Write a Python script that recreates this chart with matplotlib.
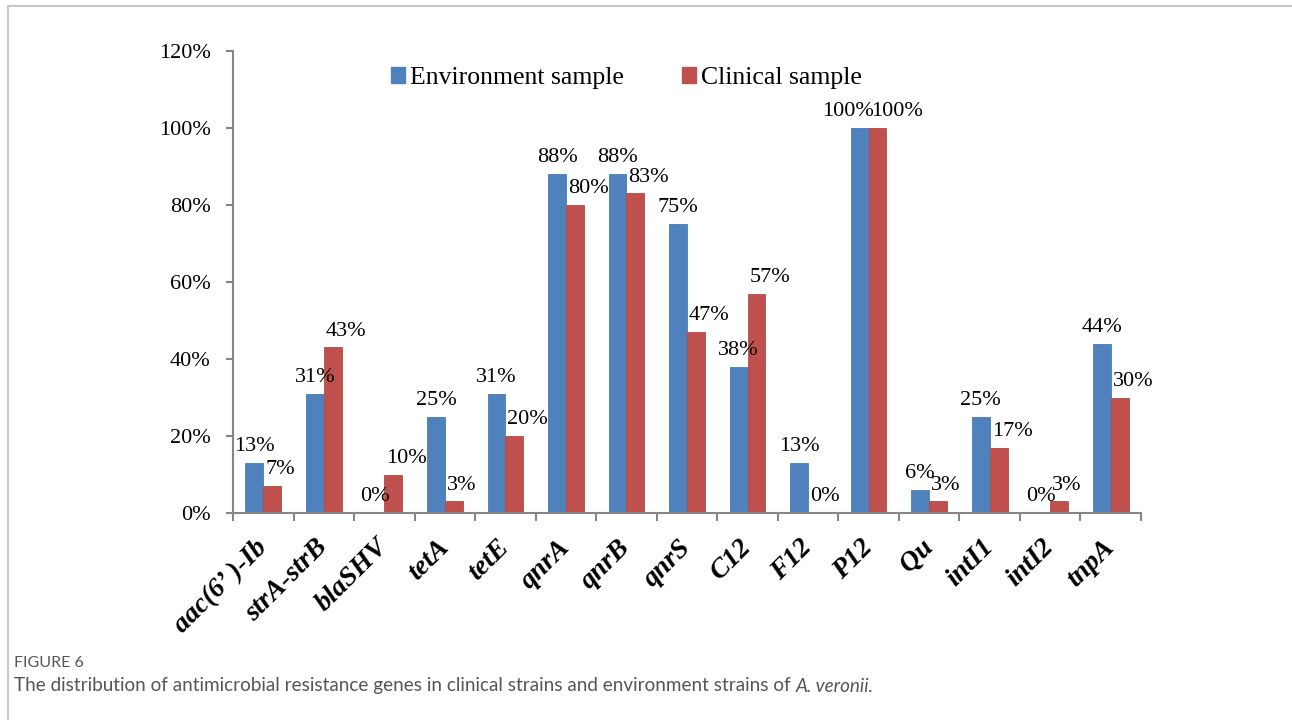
import numpy as np
import matplotlib
matplotlib.use('Agg')
import matplotlib.pyplot as plt
from matplotlib.lines import Line2D
from matplotlib.patches import Patch

# gene names and detection rates (%)
genes = ['aac(6’ )-Ib', 'strA-strB', 'blaSHV', 'tetA', 'tetE', 'qnrA', 'qnrB',
         'qnrS', 'C12', 'F12', 'P12', 'Qu', 'intI1', 'intI2', 'tnpA']
env = [13, 31, 0, 25, 31, 88, 88, 75, 38, 13, 100, 6, 25, 0, 44]
clin = [7, 43, 10, 3, 20, 80, 83, 47, 57, 0, 100, 3, 17, 3, 30]
yticks = [0, 20, 40, 60, 80, 100, 120]

blue = '#4F81BD'
red = '#C0504D'
grey = '#868686'
serif = 'Liberation Serif'

fig = plt.figure(figsize=(12.92, 7.2), dpi=100)
ax = fig.add_axes([233/1292, 1 - 513/720, 908/1292, 462/720])

x = np.arange(len(genes))
w = 0.295
ax.bar(x - w/2, env, w, color=blue, edgecolor='#4A7AB5', linewidth=0.6, label='Environment sample')
ax.bar(x + w/2, clin, w, color=red, edgecolor='#B54A47', linewidth=0.6, label='Clinical sample')

# data labels
for i in range(len(genes)):
    if abs(env[i] - clin[i]) < 4:
        ax.annotate(f'{env[i]}%', (x[i], env[i]), xytext=(4, 5), textcoords='offset points',
                    ha='right', va='bottom', fontsize=16, family=serif)
    else:
        ax.annotate(f'{env[i]}%', (x[i] - w/2, env[i]), xytext=(0, 5), textcoords='offset points',
                    ha='center', va='bottom', fontsize=16, family=serif)
    ax.annotate(f'{clin[i]}%', (x[i], clin[i]), xytext=(1.5, 5), textcoords='offset points',
                ha='left', va='bottom', fontsize=16, family=serif)

ax.set_xlim(-0.5, len(genes) - 0.5)
ax.set_ylim(0, 120)
ax.set_yticks(yticks)
ax.set_yticklabels([f'{v}%' for v in yticks], fontsize=16, family=serif)
ax.tick_params(axis='y', direction='out', length=5, width=1.5, color=grey, pad=11)

ax.set_xticks(x)
ax.set_xticklabels(genes, rotation=45, ha='right', va='center', rotation_mode='anchor',
                   fontsize=20, family=serif, fontweight='bold', fontstyle='italic')
ax.tick_params(axis='x', which='major', length=0, pad=22)
ax.set_xticks(np.arange(len(genes) + 1) - 0.5, minor=True)
ax.tick_params(axis='x', which='minor', direction='out', length=6, width=1.5, color=grey)

for s in ['top', 'right']:
    ax.spines[s].set_visible(False)
for s in ['left', 'bottom']:
    ax.spines[s].set_color(grey)
    ax.spines[s].set_linewidth(1.5)

handles = [Patch(color=blue), Patch(color=red)]
fig.legend(handles, ['Environment sample', 'Clinical sample'], loc='center left',
           bbox_to_anchor=(378/1292, 1 - 78/720), ncol=2, frameon=False, borderpad=0,
           handlelength=0.55, handleheight=0.55, handletextpad=0.2, columnspacing=2.25,
           prop={'family': serif, 'size': 18.5})

# page frame
fig.add_artist(Line2D([8/1292, 1], [1 - 6/720, 1 - 6/720], transform=fig.transFigure,
                      color='#c8c8c8', linewidth=1.5))
fig.add_artist(Line2D([8/1292, 8/1292], [0, 1 - 6/720], transform=fig.transFigure,
                      color='#c8c8c8', linewidth=1.5))

# caption
fig.text(14/1292, 1 - 663/720, 'FIGURE 6', fontsize=11.5, family='Lato', color='#555555',
         va='center')
cap = fig.text(14/1292, 1 - 686/720,
               'The distribution of antimicrobial resistance genes in clinical strains and environment strains of ',
               fontsize=13.6, family='Lato', color='#555555', va='center')
fig.canvas.draw()
bb = cap.get_window_extent()
fig.text(bb.x1 / fig.bbox.width, 1 - 686/720, 'A. veronii.', fontsize=13.6, family='Lato',
         style='italic', color='#555555', va='center')

fig.savefig('out.png', dpi=100)
